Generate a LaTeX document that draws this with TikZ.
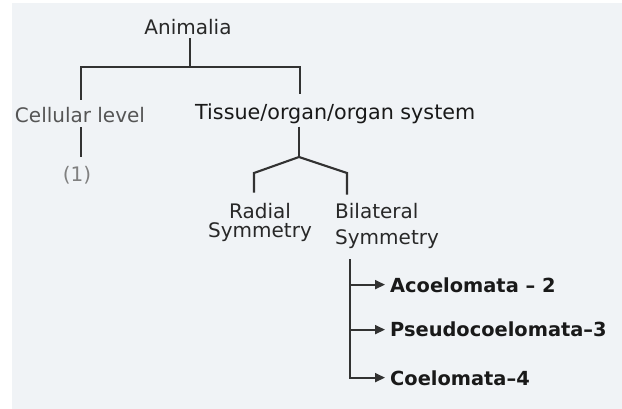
\documentclass[tikz,border=0pt]{standalone}
\usepackage{fontspec}
\setmainfont{DejaVu Sans}
\usetikzlibrary{arrows.meta,positioning,calc}
\definecolor{anpaper}{RGB}{240,243,246}
\definecolor{anline}{RGB}{50,50,50}
\definecolor{antext}{RGB}{40,40,40}
\definecolor{angray}{RGB}{85,85,85}
\definecolor{andark}{RGB}{25,25,25}

\begin{document}
\begin{tikzpicture}[x=1pt,y=-1pt,
  lbl/.style={inner sep=0pt,anchor=base,font=\fontsize{20}{20}\selectfont,text=antext},
  grp/.style={lbl,text=angray},
  cls/.style={lbl,anchor=base west,text depth=0pt,font=\bfseries\fontsize{19.4}{20}\selectfont,text=andark},
  ln/.style={line width=2.1pt,color=anline},
  arr/.style={ln,-{Triangle[length=10pt,width=9pt]},shorten >=5pt}]

  % page and photo
  \fill[white] (0,0) rectangle (622,409);
  \fill[anpaper] (12,3) rectangle (622,409);
  \useasboundingbox (0,0) rectangle (622,409);

  \node[lbl] (anim) at (188,35) {Animalia};
  \node[grp] (cell) at (80,123) {Cellular level};
  \node[grp,text=angray!75] (one) at (77,182) {(1)};
  \node[lbl,anchor=base west,text=andark,font=\fontsize{20.7}{20}\selectfont] (tiss) at (195,120) {Tissue/organ/organ system};
  % multi-line nodes: base is the last line
  \node[lbl,align=center] (rad) at (260,238) {Radial\\Symmetry};
  \node[lbl,anchor=base west,align=left,font=\fontsize{20}{26}\selectfont] (bil) at (335,244) {Bilateral\\Symmetry};
  \node[cls] (aco) at (390,292) {Acoelomata -- 2};
  \node[cls] (pse) at (390,337) {Pseudocoelomata--3};
  \node[cls] (coe) at (390,385) {Coelomata--4};

  \coordinate (barl) at (81,67);
  \coordinate (barm) at (190,67);
  \coordinate (barr) at (300,67);
  \coordinate (apex) at (299,157);
  \coordinate (tl) at (254,173);
  \coordinate (tr) at (347,173);
  \coordinate (brk) at (350,0);

  \draw[ln] ([yshift=-3pt]anim.south -| barm) -- (barm);
  \draw[ln] ([yshift=8pt]cell.north -| barl) -- (barl) -- (barr) -- ([yshift=10pt]tiss.north -| barr);
  \draw[ln] ([yshift=-4pt]cell.south -| barl) -- ([yshift=10pt]one.north -| barl);
  \draw[ln] ([yshift=-2pt]tiss.south -| apex) -- (apex);
  \draw[ln] ([yshift=10pt]rad.north -| tl) -- (tl) -- (apex) -- (tr) -- ([yshift=8pt]bil.north -| tr);

  \draw[arr] ([yshift=-11pt]bil.south -| brk) |- (coe.west);
  \draw[arr] (aco.west -| brk) -- (aco.west);
  \draw[arr] (pse.west -| brk) -- (pse.west);
\end{tikzpicture}
\end{document}
